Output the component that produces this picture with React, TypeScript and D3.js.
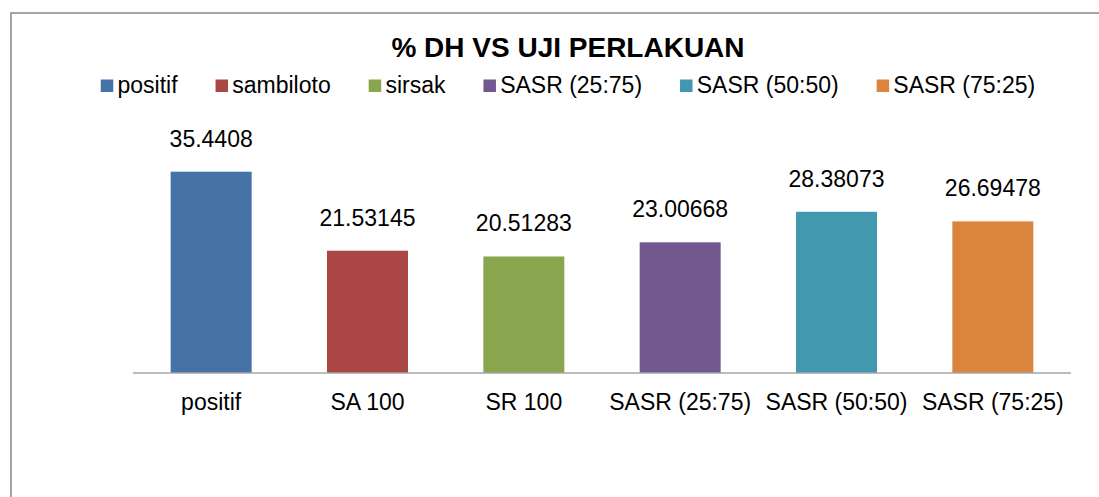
import React, { useMemo } from "react";
import * as d3 from "d3";

const categories = ["positif", "SA 100", "SR 100", "SASR (25:75)", "SASR (50:50)", "SASR (75:25)"];
const seriesNames = ["positif", "sambiloto", "sirsak", "SASR (25:75)", "SASR (50:50)", "SASR (75:25)"];
const values = [35.4408, 21.53145, 20.51283, 23.00668, 28.38073, 26.69478];
const valueLabels = ["35.4408", "21.53145", "20.51283", "23.00668", "28.38073", "26.69478"];
const colors = ["#4572A7", "#AA4643", "#89A54E", "#71588F", "#4198AF", "#DB843D"];
const title = "% DH VS UJI PERLAKUAN";

const W = 1099;
const H = 497;
const FONT = "'Liberation Sans', Arial, sans-serif";
const centerX = 568;

function measure(text: string, font: string): number {
  if (typeof document === "undefined") return text.length * 12;
  const c = document.createElement("canvas");
  const ctx = c.getContext("2d");
  if (!ctx) return text.length * 12;
  ctx.font = font;
  return ctx.measureText(text).width;
}

export default function App() {
  const x = d3.scaleBand<string>().domain(categories).range([133, 1071]).paddingInner(0.482).paddingOuter(0.241);
  const y = d3.scaleLinear().domain([0, 40]).range([373, 145.8]);

  const legend = useMemo(() => {
    const sq = 12.5;
    const textGap = 4.2;
    const itemGap = 38;
    const widths = seriesNames.map((n) => measure(n, `23px 'Liberation Sans'`));
    const total = widths.reduce((a, w) => a + sq + textGap + w, 0) + itemGap * (seriesNames.length - 1);
    let cx = centerX - total / 2;
    return seriesNames.map((n, i) => {
      const item = { name: n, x: cx, tx: cx + sq + textGap, color: colors[i] };
      cx += sq + textGap + widths[i] + itemGap;
      return item;
    });
  }, []);

  return (
    <svg
      width={W}
      height={H}
      style={{ position: "absolute", left: 0, top: 0, background: "#fff" }}
      fontFamily={FONT}
    >
      <rect x={0} y={0} width={W} height={H} fill="#fff" />
      <rect x={11} y={13} width={1200} height={700} fill="none" stroke="#898989" strokeWidth={1.5} />
      <text x={centerX} y={56.7} textAnchor="middle" fontSize={28} fontWeight="bold" fill="#000">
        {title}
      </text>
      {legend.map((l) => (
        <g key={l.name}>
          <rect x={l.x} y={79.5} width={12.5} height={12.5} fill={l.color} />
          <text x={l.tx} y={93.3} fontSize={23} fill="#000">
            {l.name}
          </text>
        </g>
      ))}
      {categories.map((c, i) => (
        <rect key={c} x={x(c)} y={y(values[i])} width={x.bandwidth()} height={y(0) - y(values[i])} fill={colors[i]} />
      ))}
      {categories.map((c, i) => (
        <text
          key={"v" + c}
          x={(x(c) as number) + x.bandwidth() / 2}
          y={y(values[i]) - 25}
          textAnchor="middle"
          fontSize={23}
          fill="#000"
        >
          {valueLabels[i]}
        </text>
      ))}
      <line x1={133} x2={1071} y1={y(0)} y2={y(0)} stroke="#a6a6a6" strokeWidth={1.4} />
      {categories.map((c) => (
        <text
          key={"c" + c}
          x={(x(c) as number) + x.bandwidth() / 2}
          y={409.5}
          textAnchor="middle"
          fontSize={23}
          fill="#000"
        >
          {c}
        </text>
      ))}
    </svg>
  );
}
